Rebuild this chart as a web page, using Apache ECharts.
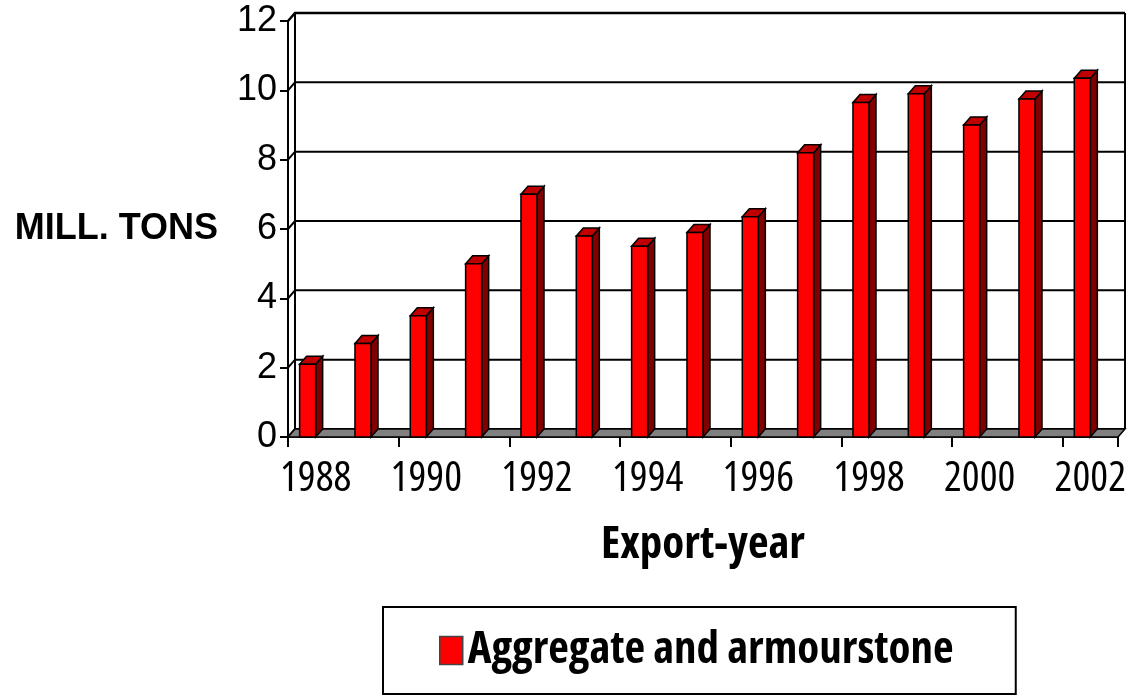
<!DOCTYPE html>
<html><head><meta charset="utf-8">
<script src="https://cdn.jsdelivr.net/npm/echarts@6/dist/echarts.min.js"></script>
<style>html,body{margin:0;padding:0;background:#fff}#c{width:1135px;height:696px}</style>
</head><body><div id="c"></div>
<script>
const years = ['1988','1989','1990','1991','1992','1993','1994','1995','1996','1997','1998','1999','2000','2001','2002'];
const exportMillTons = [2.1, 2.7, 3.5, 5.0, 7.0, 5.8, 5.5, 5.9, 6.35, 8.2, 9.65, 9.9, 9.0, 9.75, 10.35];
const yTicks = [0, 2, 4, 6, 8, 10, 12];
const seriesName = 'Aggregate and armourstone';
const yAxisTitle = 'MILL. TONS';
const xAxisTitle = 'Export-year';

const DX = 7, DY = 8;
const SANS = "'Liberation Sans', Arial, sans-serif";

// pick a font (family / width variant) whose rendered size matches the reference text box
const mctx = document.createElement('canvas').getContext('2d');
const FAMILIES = ["Roboto", "'Open Sans'", "'Liberation Sans'"];
const STRETCHES = ['condensed', 'semi-condensed', 'normal'];
function fitFont(text, targetW, capH, weight) {
  const size = Math.round(capH / 0.715);
  let best = null;
  FAMILIES.forEach(function (fam) {
    STRETCHES.forEach(function (st) {
      mctx.font = 'normal ' + weight + ' ' + st + ' ' + size + 'px ' + fam;
      const w = mctx.measureText(text).width;
      const d = Math.abs(w - targetW);
      if (!best || d < best.d - 0.5) best = {d: d, w: w, style: {fontStyle: 'normal', fontWeight: weight + ' ' + st, fontSize: size, fontFamily: fam, color: '#000'}};
    });
  });
  return best;
}
const fX = fitFont('1988', 70, 30, 'normal');
const fXName = fitFont(xAxisTitle, 199, 32, 'bold');
const fLeg = fitFont(seriesName, 491, 32, 'bold');

function renderFrame(params, api) {
  const band = api.size([1, 0])[0];
  const x0 = api.coord([0, 0])[0] - band / 2;
  const x1 = api.coord([years.length - 1, 0])[0] + band / 2;
  const yb = api.coord([0, yTicks[0]])[1];
  const yt = api.coord([0, yTicks[yTicks.length - 1]])[1];
  const ch = [];
  yTicks.forEach(function (v) {
    const y = api.coord([0, v])[1];
    ch.push({type: 'polyline', shape: {points: [[x0, y], [x0 + DX, y - DY], [x1 + DX, y - DY]]},
      style: {stroke: '#000', lineWidth: v === yTicks[yTicks.length - 1] ? 2.5 : 2, fill: null}});
  });
  ch.push({type: 'line', shape: {x1: x0 + DX, y1: yt - DY, x2: x0 + DX, y2: yb - DY}, style: {stroke: '#000', lineWidth: 2}});
  ch.push({type: 'line', shape: {x1: x1 + DX, y1: yt - DY, x2: x1 + DX, y2: yb - DY}, style: {stroke: '#000', lineWidth: 2}});
  ch.push({type: 'polygon', shape: {points: [[x0, yb], [x1, yb], [x1 + DX, yb - DY], [x0 + DX, yb - DY]]},
    style: {fill: '#808080', stroke: '#000', lineWidth: 1.5}});
  return {type: 'group', children: ch};
}

function renderBar(params, api) {
  const idx = api.value(0), v = api.value(1);
  const top = api.coord([idx, v]);
  const base = api.coord([idx, 0]);
  const band = api.size([1, 0])[0];
  const w = band * 0.29;
  const xr = top[0], xl = xr - w, yt = top[1], yb = base[1];
  return {type: 'group', children: [
    {type: 'polygon', shape: {points: [[xr, yb], [xr, yt], [xr + DX, yt - DY], [xr + DX, yb - DY]]},
      style: {fill: '#800000', stroke: '#000', lineWidth: 1.5}},
    {type: 'polygon', shape: {points: [[xl, yt], [xr, yt], [xr + DX, yt - DY], [xl + DX, yt - DY]]},
      style: {fill: '#C00000', stroke: '#000', lineWidth: 1.5}},
    {type: 'rect', shape: {x: xl, y: yt, width: w, height: yb - yt},
      style: {fill: '#FF0000', stroke: '#000', lineWidth: 1.5}}
  ]};
}

const legPadL = 56;
const legPadR = Math.max(10, 632 - legPadL - 28 - fLeg.w);

const chart = echarts.init(document.getElementById('c'), null, {renderer: 'canvas'});
chart.setOption({
  animation: false,
  backgroundColor: '#fff',
  grid: {left: 288, right: 17, top: 21, bottom: 259},
  legend: {
    left: 383, top: 607, selectedMode: false,
    padding: [21, legPadR, 21, legPadL],
    borderColor: '#000', borderWidth: 2,
    itemWidth: 23, itemHeight: 28,
    textStyle: Object.assign({lineHeight: 44}, fLeg.style),
    data: [{name: seriesName, icon: 'rect', itemStyle: {color: '#FF0000', borderColor: '#444', borderWidth: 1.5}}]
  },
  xAxis: {
    type: 'category', data: years,
    name: xAxisTitle, nameLocation: 'middle', nameGap: 86,
    nameTextStyle: fXName.style,
    axisLine: {show: true, lineStyle: {color: '#000', width: 1.5}},
    axisTick: {show: true, length: 10, lineStyle: {color: '#000', width: 2}},
    axisLabel: Object.assign({interval: 1, margin: 21}, fX.style),
    splitLine: {show: false}
  },
  yAxis: {
    type: 'value', min: yTicks[0], max: yTicks[yTicks.length - 1], interval: 2,
    name: yAxisTitle, nameLocation: 'middle', nameRotate: 0, nameGap: 70,
    nameTextStyle: {fontFamily: SANS, fontWeight: 'bold', fontSize: 36, color: '#000'},
    axisLine: {show: true, lineStyle: {color: '#000', width: 2}},
    axisTick: {show: true, length: 8, lineStyle: {color: '#000', width: 2}},
    axisLabel: {margin: 11, fontFamily: SANS, fontSize: 36, color: '#000'},
    splitLine: {show: false}
  },
  series: [
    {type: 'custom', name: '_frame', silent: true, z: 1, renderItem: renderFrame, data: [[0, 0]], encode: {x: 0, y: 1}},
    {type: 'custom', name: seriesName, z: 2, renderItem: renderBar,
      itemStyle: {color: '#FF0000'},
      data: years.map(function (y, i) { return [i, exportMillTons[i]]; }), encode: {x: 0, y: 1}}
  ]
});
</script></body></html>
